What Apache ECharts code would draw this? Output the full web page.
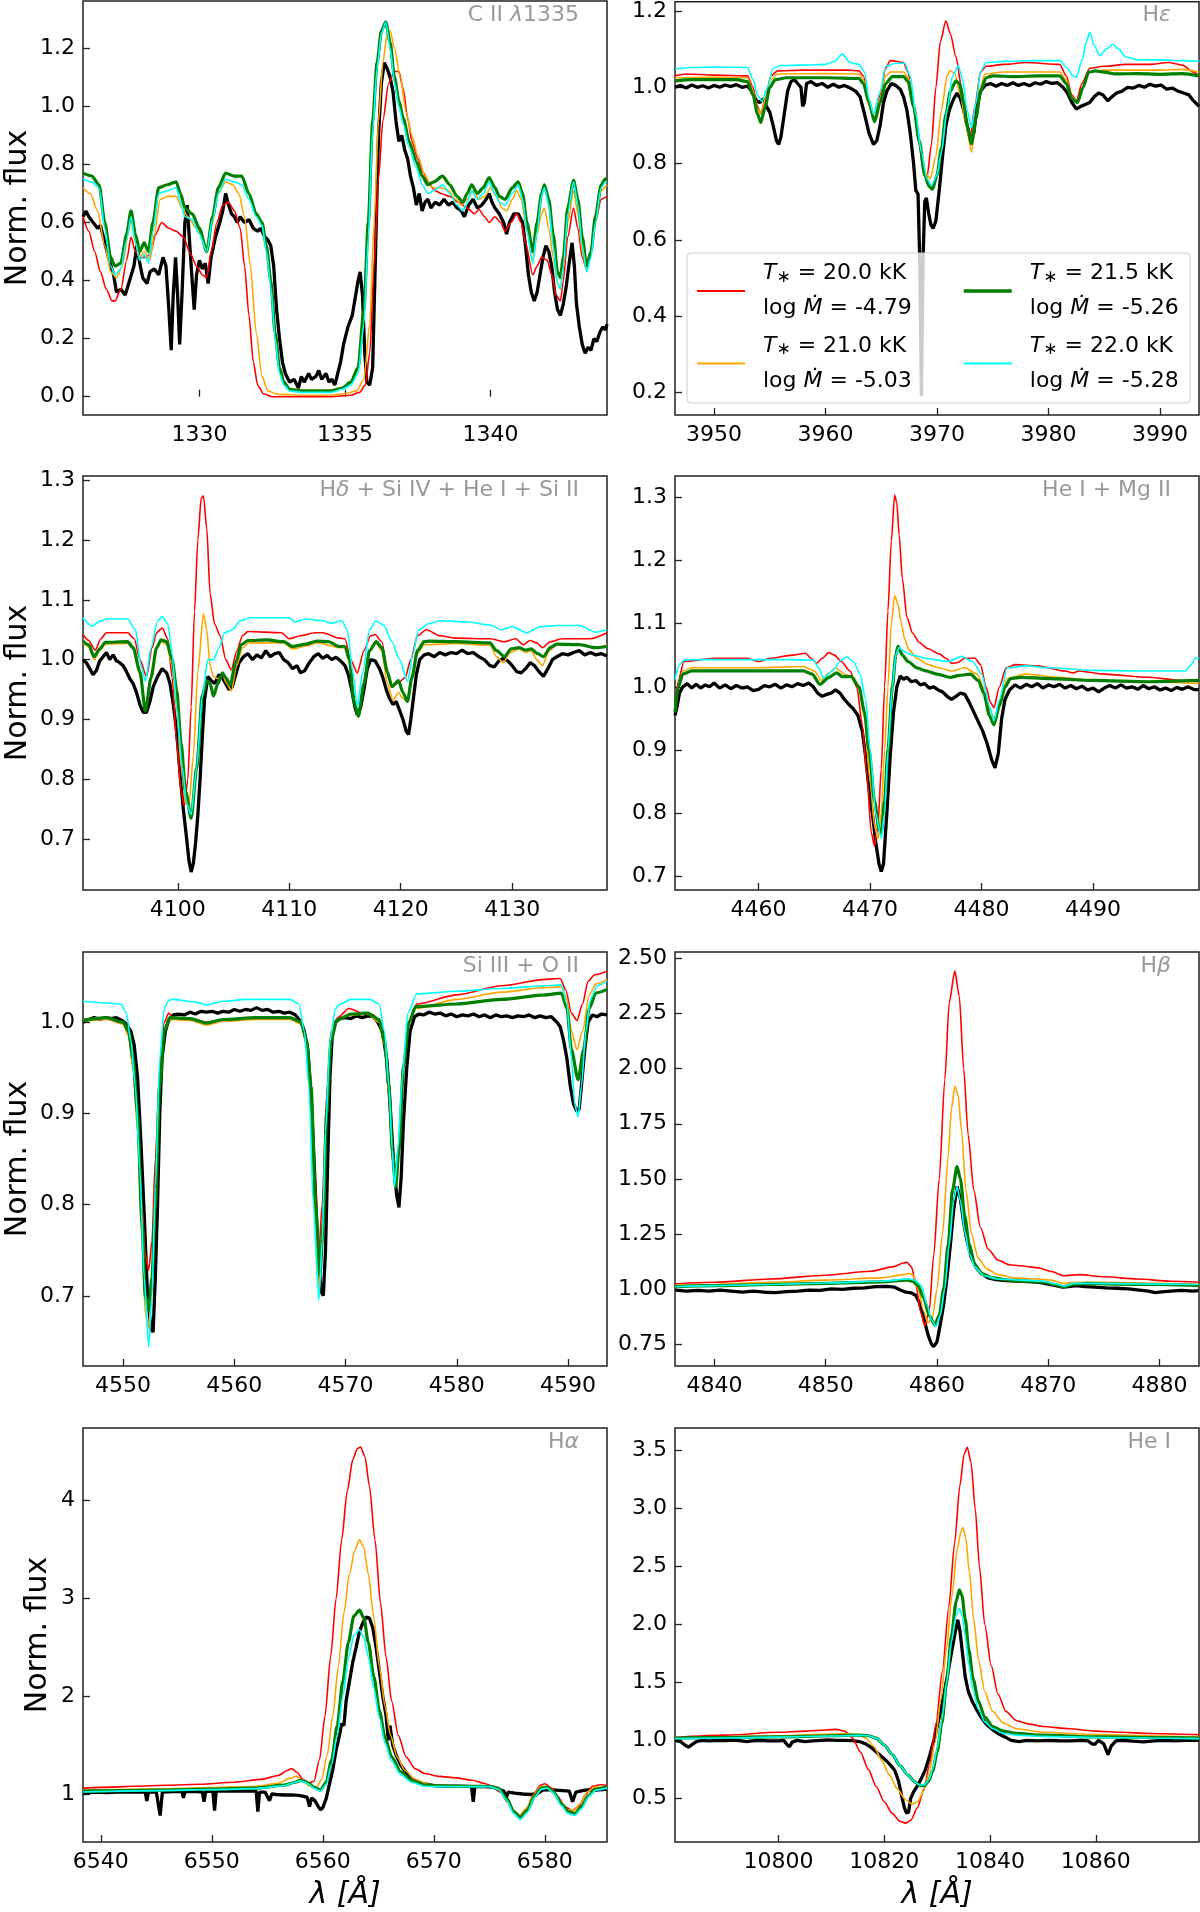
<!DOCTYPE html>
<html>
<head>
<meta charset="utf-8" />
<title>Model fits</title>
<script src="https://cdn.jsdelivr.net/npm/echarts@6.0.0/dist/echarts.min.js"></script>
</head>
<body style="margin:0; background:#fff">
<div id="container" style="width:1200px; height:1912px"></div>
<script>
// model labels and colours
var modelTeff = ['20.0', '21.0', '21.5', '22.0'];
var modelLogMdot = ['-4.79', '-5.03', '-5.26', '-5.28'];
var modelColors = ['#ff0000', '#ffa500', '#008000', '#00ffff'];
var modelNames = modelTeff.map(function (t, i) { return 'T = ' + t + ' kK, log Mdot = ' + modelLogMdot[i]; });

// ---- C II 1335 ----
var ciiXTicks = [1330, 1335, 1340];
var ciiYTicks = [0, 0.2, 0.4, 0.6, 0.8, 1.0, 1.2];
var ciiObs = [[1326.0,0.62],[1326.1,0.64],[1326.2,0.62],[1326.35,0.6],[1326.5,0.58],[1326.6,0.59],[1326.75,0.53],[1326.9,0.47],[1327.05,0.42],[1327.15,0.36],[1327.3,0.37],[1327.45,0.35],[1327.6,0.4],[1327.75,0.45],[1327.85,0.52],[1327.95,0.46],[1328.05,0.41],[1328.2,0.39],[1328.3,0.43],[1328.45,0.44],[1328.6,0.42],[1328.75,0.48],[1328.85,0.45],[1328.95,0.3],[1329.03,0.16],[1329.1,0.35],[1329.18,0.48],[1329.25,0.35],[1329.32,0.18],[1329.4,0.35],[1329.5,0.6],[1329.58,0.66],[1329.65,0.55],[1329.75,0.4],[1329.82,0.3],[1329.9,0.42],[1330.0,0.47],[1330.1,0.44],[1330.2,0.46],[1330.3,0.39],[1330.4,0.48],[1330.55,0.55],[1330.7,0.6],[1330.8,0.64],[1330.9,0.7],[1331.0,0.66],[1331.1,0.63],[1331.2,0.62],[1331.3,0.6],[1331.4,0.62],[1331.55,0.6],[1331.7,0.61],[1331.85,0.58],[1332.0,0.57],[1332.1,0.58],[1332.25,0.55],[1332.35,0.54],[1332.45,0.52],[1332.55,0.45],[1332.65,0.3],[1332.75,0.2],[1332.85,0.12],[1332.95,0.08],[1333.1,0.05],[1333.25,0.06],[1333.4,0.03],[1333.5,0.07],[1333.6,0.05],[1333.75,0.08],[1333.85,0.06],[1334.0,0.07],[1334.1,0.09],[1334.2,0.06],[1334.35,0.08],[1334.45,0.05],[1334.55,0.06],[1334.65,0.04],[1334.75,0.08],[1334.85,0.12],[1334.95,0.18],[1335.1,0.24],[1335.25,0.28],[1335.35,0.34],[1335.45,0.4],[1335.52,0.43],[1335.6,0.35],[1335.68,0.15],[1335.75,0.05],[1335.85,0.04],[1335.95,0.1],[1336.05,0.5],[1336.15,0.9],[1336.25,1.08],[1336.35,1.15],[1336.45,1.13],[1336.55,1.1],[1336.65,1.05],[1336.75,0.95],[1336.85,0.88],[1336.95,0.9],[1337.05,0.85],[1337.15,0.82],[1337.25,0.76],[1337.35,0.72],[1337.45,0.66],[1337.55,0.7],[1337.65,0.64],[1337.75,0.67],[1337.85,0.68],[1337.95,0.65],[1338.1,0.67],[1338.25,0.66],[1338.4,0.68],[1338.55,0.66],[1338.7,0.67],[1338.85,0.65],[1339.0,0.64],[1339.1,0.62],[1339.25,0.66],[1339.4,0.68],[1339.55,0.65],[1339.7,0.66],[1339.85,0.68],[1339.95,0.7],[1340.05,0.67],[1340.15,0.65],[1340.3,0.63],[1340.45,0.6],[1340.55,0.56],[1340.65,0.6],[1340.8,0.63],[1340.95,0.63],[1341.1,0.6],[1341.2,0.52],[1341.3,0.42],[1341.4,0.36],[1341.5,0.33],[1341.6,0.36],[1341.7,0.42],[1341.8,0.48],[1341.9,0.52],[1342.0,0.5],[1342.1,0.45],[1342.2,0.36],[1342.3,0.3],[1342.4,0.28],[1342.5,0.32],[1342.6,0.38],[1342.7,0.46],[1342.8,0.53],[1342.88,0.45],[1342.95,0.32],[1343.05,0.24],[1343.15,0.18],[1343.25,0.15],[1343.35,0.17],[1343.45,0.16],[1343.55,0.2],[1343.65,0.19],[1343.75,0.22],[1343.85,0.24],[1343.95,0.23],[1344.0,0.25]];
var ciiT200 = [[1326.0,0.62],[1326.2,0.57],[1326.4,0.5],[1326.6,0.43],[1326.8,0.37],[1327.0,0.33],[1327.1,0.33],[1327.3,0.37],[1327.5,0.47],[1327.65,0.55],[1327.8,0.5],[1327.95,0.48],[1328.15,0.48],[1328.3,0.49],[1328.5,0.56],[1328.7,0.6],[1328.95,0.58],[1329.2,0.57],[1329.45,0.55],[1329.7,0.49],[1329.9,0.45],[1330.1,0.42],[1330.25,0.41],[1330.4,0.5],[1330.6,0.6],[1330.8,0.66],[1331.0,0.67],[1331.2,0.64],[1331.4,0.58],[1331.55,0.45],[1331.7,0.28],[1331.85,0.12],[1332.0,0.04],[1332.2,0.01],[1332.5,0.0],[1333.5,0.0],[1334.5,0.0],[1335.2,0.005],[1335.5,0.015],[1335.7,0.04],[1335.85,0.15],[1336.0,0.45],[1336.15,0.75],[1336.3,0.95],[1336.5,1.08],[1336.7,1.12],[1336.85,1.12],[1337.0,1.06],[1337.15,0.96],[1337.3,0.88],[1337.5,0.82],[1337.7,0.77],[1337.9,0.73],[1338.1,0.71],[1338.3,0.7],[1338.6,0.69],[1338.9,0.67],[1339.2,0.65],[1339.45,0.63],[1339.6,0.645],[1339.8,0.62],[1339.95,0.6],[1340.15,0.62],[1340.35,0.6],[1340.5,0.57],[1340.7,0.6],[1340.9,0.63],[1341.05,0.6],[1341.2,0.53],[1341.45,0.42],[1341.6,0.45],[1341.75,0.48],[1341.95,0.47],[1342.1,0.42],[1342.25,0.35],[1342.4,0.33],[1342.5,0.4],[1342.65,0.55],[1342.85,0.65],[1343.0,0.58],[1343.15,0.48],[1343.3,0.44],[1343.45,0.5],[1343.6,0.6],[1343.8,0.68],[1344.0,0.69]];
var ciiT210 = [[1326.0,0.72],[1326.25,0.7],[1326.5,0.64],[1326.75,0.52],[1326.95,0.43],[1327.15,0.41],[1327.35,0.45],[1327.55,0.56],[1327.65,0.61],[1327.8,0.53],[1327.95,0.48],[1328.1,0.5],[1328.3,0.47],[1328.45,0.56],[1328.65,0.68],[1328.9,0.69],[1329.2,0.69],[1329.4,0.65],[1329.6,0.62],[1329.9,0.58],[1330.25,0.52],[1330.45,0.6],[1330.65,0.7],[1330.9,0.74],[1331.15,0.73],[1331.35,0.7],[1331.55,0.62],[1331.75,0.45],[1331.95,0.22],[1332.15,0.07],[1332.35,0.02],[1332.7,0.008],[1333.5,0.005],[1334.5,0.005],[1335.0,0.01],[1335.4,0.02],[1335.65,0.06],[1335.85,0.25],[1336.0,0.6],[1336.15,0.95],[1336.3,1.15],[1336.45,1.25],[1336.55,1.26],[1336.7,1.2],[1336.9,1.1],[1337.1,0.98],[1337.3,0.9],[1337.5,0.83],[1337.75,0.76],[1338.0,0.72],[1338.3,0.72],[1338.55,0.71],[1338.8,0.68],[1339.0,0.66],[1339.2,0.68],[1339.4,0.71],[1339.6,0.68],[1339.8,0.69],[1340.0,0.72],[1340.2,0.69],[1340.4,0.65],[1340.55,0.64],[1340.75,0.68],[1340.9,0.71],[1341.05,0.68],[1341.25,0.57],[1341.45,0.47],[1341.6,0.56],[1341.75,0.63],[1341.85,0.65],[1342.0,0.58],[1342.15,0.48],[1342.3,0.39],[1342.4,0.37],[1342.5,0.44],[1342.65,0.6],[1342.85,0.71],[1343.0,0.63],[1343.15,0.5],[1343.3,0.44],[1343.45,0.5],[1343.6,0.6],[1343.8,0.71],[1344.0,0.73]];
var ciiT215 = [[1326.0,0.77],[1326.3,0.76],[1326.55,0.73],[1326.75,0.6],[1326.95,0.48],[1327.1,0.45],[1327.3,0.46],[1327.5,0.56],[1327.65,0.64],[1327.8,0.56],[1327.95,0.5],[1328.1,0.53],[1328.25,0.5],[1328.4,0.6],[1328.6,0.72],[1328.9,0.73],[1329.2,0.74],[1329.35,0.7],[1329.5,0.65],[1329.75,0.63],[1330.0,0.58],[1330.25,0.5],[1330.45,0.62],[1330.65,0.72],[1330.9,0.77],[1331.2,0.76],[1331.45,0.76],[1331.7,0.7],[1331.95,0.63],[1332.15,0.6],[1332.3,0.52],[1332.45,0.4],[1332.6,0.22],[1332.75,0.1],[1332.9,0.05],[1333.1,0.025],[1333.5,0.02],[1334.0,0.02],[1334.5,0.02],[1334.9,0.03],[1335.2,0.05],[1335.45,0.1],[1335.65,0.3],[1335.8,0.6],[1335.95,0.95],[1336.1,1.15],[1336.25,1.26],[1336.4,1.29],[1336.55,1.22],[1336.7,1.1],[1336.85,1.02],[1337.0,0.96],[1337.2,0.88],[1337.45,0.81],[1337.65,0.76],[1337.85,0.73],[1338.05,0.74],[1338.35,0.76],[1338.6,0.73],[1338.85,0.69],[1339.05,0.67],[1339.2,0.7],[1339.35,0.73],[1339.55,0.7],[1339.75,0.72],[1339.95,0.755],[1340.15,0.72],[1340.3,0.69],[1340.5,0.68],[1340.75,0.72],[1340.95,0.74],[1341.1,0.7],[1341.25,0.6],[1341.45,0.5],[1341.6,0.6],[1341.75,0.7],[1341.85,0.73],[1342.0,0.68],[1342.15,0.56],[1342.3,0.43],[1342.4,0.41],[1342.5,0.48],[1342.65,0.65],[1342.85,0.745],[1343.0,0.68],[1343.15,0.55],[1343.3,0.45],[1343.45,0.5],[1343.6,0.62],[1343.8,0.73],[1343.95,0.75],[1344.0,0.75]];
var ciiT220 = [[1326.0,0.75],[1326.3,0.74],[1326.55,0.72],[1326.75,0.58],[1326.95,0.45],[1327.1,0.42],[1327.3,0.44],[1327.5,0.54],[1327.65,0.62],[1327.8,0.53],[1327.95,0.47],[1328.1,0.49],[1328.25,0.46],[1328.4,0.57],[1328.6,0.7],[1328.9,0.71],[1329.2,0.72],[1329.35,0.67],[1329.5,0.62],[1329.75,0.61],[1330.0,0.56],[1330.25,0.5],[1330.45,0.61],[1330.65,0.7],[1330.9,0.75],[1331.2,0.74],[1331.45,0.73],[1331.7,0.68],[1331.95,0.62],[1332.15,0.59],[1332.3,0.5],[1332.45,0.38],[1332.6,0.2],[1332.75,0.08],[1332.9,0.04],[1333.1,0.02],[1333.5,0.015],[1334.0,0.015],[1334.5,0.015],[1334.9,0.025],[1335.2,0.04],[1335.45,0.08],[1335.65,0.25],[1335.8,0.55],[1335.95,0.92],[1336.1,1.13],[1336.25,1.25],[1336.4,1.29],[1336.55,1.2],[1336.7,1.08],[1336.85,1.0],[1337.0,0.94],[1337.2,0.86],[1337.45,0.79],[1337.65,0.73],[1337.85,0.7],[1338.05,0.71],[1338.35,0.73],[1338.6,0.7],[1338.85,0.66],[1339.05,0.64],[1339.2,0.67],[1339.35,0.71],[1339.55,0.68],[1339.75,0.7],[1339.95,0.74],[1340.15,0.7],[1340.3,0.67],[1340.5,0.66],[1340.75,0.7],[1340.95,0.73],[1341.1,0.68],[1341.25,0.57],[1341.45,0.46],[1341.6,0.57],[1341.75,0.69],[1341.85,0.72],[1342.0,0.66],[1342.15,0.52],[1342.3,0.39],[1342.4,0.37],[1342.5,0.45],[1342.65,0.63],[1342.85,0.74],[1343.0,0.66],[1343.15,0.52],[1343.3,0.43],[1343.45,0.48],[1343.6,0.6],[1343.8,0.72],[1343.95,0.74],[1344.0,0.74]];

// ---- H epsilon ----
var heXTicks = [3950, 3960, 3970, 3980, 3990];
var heYTicks = [0.2, 0.4, 0.6, 0.8, 1.0, 1.2];
var heObs = [[3946.5,1.0],[3947.0,1.005],[3947.5,0.998],[3948.0,1.006],[3948.5,1.0],[3949.0,1.004],[3949.5,0.998],[3950.0,1.005],[3950.5,1.0],[3951.0,1.006],[3951.5,1.002],[3952.0,1.007],[3952.5,1.0],[3953.0,1.003],[3953.4,0.99],[3953.8,0.965],[3954.1,0.96],[3954.4,0.97],[3954.7,0.95],[3955.0,0.935],[3955.3,0.9],[3955.6,0.86],[3955.8,0.85],[3956.0,0.87],[3956.3,0.93],[3956.6,0.99],[3956.9,1.015],[3957.2,1.02],[3957.5,1.01],[3957.8,1.0],[3957.95,0.95],[3958.1,0.96],[3958.3,1.01],[3958.7,1.015],[3959.2,1.005],[3959.7,1.01],[3960.2,1.0],[3960.7,1.008],[3961.2,1.0],[3961.7,1.005],[3962.2,0.998],[3962.7,0.99],[3963.1,0.975],[3963.5,0.93],[3963.9,0.88],[3964.3,0.85],[3964.6,0.86],[3964.9,0.9],[3965.2,0.96],[3965.5,0.99],[3965.9,1.01],[3966.3,1.005],[3966.7,0.995],[3967.0,0.975],[3967.3,0.94],[3967.6,0.88],[3967.9,0.8],[3968.1,0.73],[3968.3,0.72],[3968.45,0.55],[3968.6,0.19],[3968.75,0.55],[3968.9,0.7],[3969.05,0.71],[3969.25,0.67],[3969.45,0.64],[3969.65,0.63],[3969.9,0.65],[3970.2,0.73],[3970.5,0.82],[3970.8,0.9],[3971.1,0.94],[3971.5,0.97],[3971.8,0.985],[3972.1,0.97],[3972.4,0.94],[3972.7,0.9],[3973.0,0.86],[3973.3,0.88],[3973.6,0.95],[3973.9,0.99],[3974.3,1.005],[3974.8,1.01],[3975.3,1.003],[3975.8,1.01],[3976.3,1.005],[3976.8,1.012],[3977.3,1.005],[3977.8,1.01],[3978.3,1.004],[3978.8,1.012],[3979.3,1.008],[3979.8,1.015],[3980.3,1.01],[3980.8,1.012],[3981.3,1.0],[3981.7,0.985],[3982.1,0.96],[3982.5,0.943],[3982.9,0.95],[3983.3,0.955],[3983.7,0.96],[3984.1,0.975],[3984.5,0.985],[3984.9,0.98],[3985.3,0.965],[3985.7,0.975],[3986.1,0.985],[3986.6,0.99],[3987.1,1.0],[3987.6,0.998],[3988.1,1.005],[3988.6,1.0],[3989.1,1.008],[3989.6,1.003],[3990.1,1.006],[3990.6,0.995],[3991.1,0.998],[3991.6,0.99],[3992.1,0.985],[3992.6,0.98],[3993.0,0.965],[3993.5,0.95]];
var heT200 = [[3946.5,1.03],[3947.5,1.035],[3950,1.032],[3953,1.03],[3953.5,1.0],[3953.9,0.95],[3954.2,0.93],[3954.6,0.97],[3955.1,1.03],[3955.7,1.043],[3958,1.045],[3962,1.045],[3963,1.043],[3963.4,1.03],[3963.9,0.96],[3964.4,0.92],[3964.9,0.98],[3965.4,1.05],[3965.8,1.07],[3967.0,1.065],[3967.4,1.04],[3967.9,0.95],[3968.4,0.85],[3968.8,0.78],[3969.1,0.765],[3969.5,0.85],[3969.9,1.0],[3970.3,1.12],[3970.8,1.174],[3971.2,1.14],[3971.7,1.08],[3972.2,1.0],[3972.6,0.92],[3973.0,0.874],[3973.4,0.95],[3973.9,1.04],[3974.4,1.055],[3976,1.06],[3978,1.065],[3981,1.06],[3981.6,1.03],[3982.1,0.98],[3982.5,0.965],[3983.0,1.01],[3983.7,1.05],[3985,1.055],[3987,1.06],[3989,1.06],[3990.8,1.065],[3992,1.058],[3993,1.04],[3993.5,1.03]];
var heT210 = [[3946.5,1.025],[3950,1.026],[3953,1.025],[3953.5,0.99],[3953.9,0.945],[3954.2,0.93],[3954.6,0.97],[3955.1,1.02],[3955.7,1.035],[3960,1.036],[3963,1.035],[3963.4,1.02],[3963.9,0.95],[3964.4,0.92],[3964.9,0.97],[3965.4,1.03],[3965.8,1.04],[3967.0,1.04],[3967.5,1.02],[3968.0,0.93],[3968.5,0.84],[3969.0,0.775],[3969.4,0.76],[3969.9,0.82],[3970.4,0.94],[3970.9,1.03],[3971.2,1.044],[3971.6,1.035],[3972.1,0.98],[3972.6,0.9],[3973.1,0.83],[3973.5,0.92],[3973.9,1.0],[3974.3,1.035],[3976,1.04],[3981,1.04],[3981.6,1.02],[3982.1,0.975],[3982.6,0.96],[3983.1,1.0],[3983.6,1.04],[3985,1.045],[3990,1.045],[3992,1.047],[3993.5,1.04]];
var heT215 = [[3946.5,1.017],[3948,1.02],[3950,1.02],[3952,1.02],[3953,1.015],[3953.5,0.98],[3953.9,0.93],[3954.2,0.908],[3954.6,0.95],[3955.0,1.0],[3955.5,1.02],[3956.5,1.025],[3960,1.025],[3963,1.023],[3963.4,1.01],[3963.9,0.96],[3964.4,0.91],[3964.9,0.96],[3965.4,1.01],[3966.0,1.028],[3967.0,1.028],[3967.4,1.015],[3967.9,0.95],[3968.4,0.86],[3968.9,0.77],[3969.3,0.74],[3969.6,0.733],[3970.0,0.77],[3970.4,0.84],[3970.8,0.93],[3971.2,0.99],[3971.7,1.017],[3972.0,1.01],[3972.4,0.96],[3972.7,0.9],[3973.1,0.852],[3973.5,0.92],[3973.9,0.99],[3974.4,1.025],[3975,1.03],[3977,1.028],[3979,1.03],[3981,1.03],[3981.6,1.01],[3982.1,0.97],[3982.6,0.96],[3983.1,1.0],[3983.6,1.04],[3984.2,1.043],[3985,1.04],[3986,1.035],[3988,1.036],[3990,1.034],[3992,1.036],[3993.5,1.03]];
var heT220 = [[3946.5,1.048],[3948,1.052],[3950,1.053],[3953,1.052],[3953.5,1.02],[3953.9,0.98],[3954.3,0.963],[3954.8,1.0],[3955.3,1.05],[3956,1.057],[3958,1.058],[3960,1.06],[3960.8,1.068],[3961.5,1.087],[3962.2,1.065],[3963,1.06],[3963.5,1.04],[3963.9,0.97],[3964.3,0.93],[3964.9,0.99],[3965.4,1.055],[3966.3,1.063],[3967.1,1.063],[3967.6,1.03],[3968.1,0.93],[3968.6,0.83],[3969.1,0.76],[3969.5,0.743],[3970.0,0.77],[3970.4,0.83],[3970.9,0.94],[3971.4,1.03],[3971.9,1.057],[3972.3,1.02],[3972.7,0.94],[3973.1,0.895],[3973.5,0.96],[3973.9,1.04],[3974.4,1.065],[3976,1.068],[3979,1.07],[3981,1.07],[3981.7,1.05],[3982.2,1.03],[3982.5,1.026],[3983.0,1.07],[3983.4,1.12],[3983.7,1.144],[3984.1,1.11],[3984.6,1.083],[3985.2,1.1],[3985.8,1.113],[3986.3,1.1],[3986.9,1.08],[3988,1.072],[3990,1.072],[3992,1.07],[3993.5,1.068]];

// ---- H delta ----
var hdXTicks = [4100, 4110, 4120, 4130];
var hdYTicks = [0.7, 0.8, 0.9, 1.0, 1.1, 1.2, 1.3];
var hdObs = [[4091.5,1.0],[4091.8,0.995],[4092.1,0.985],[4092.4,0.975],[4092.7,0.982],[4093.0,0.998],[4093.3,1.005],[4093.6,1.012],[4093.9,1.0],[4094.2,1.008],[4094.5,0.998],[4094.8,0.995],[4095.1,0.99],[4095.4,0.98],[4095.7,0.968],[4096.0,0.96],[4096.3,0.945],[4096.6,0.925],[4096.9,0.912],[4097.2,0.912],[4097.5,0.93],[4097.8,0.955],[4098.2,0.972],[4098.6,0.985],[4099.0,0.978],[4099.3,0.96],[4099.6,0.925],[4099.9,0.88],[4100.2,0.81],[4100.5,0.75],[4100.8,0.7],[4101.0,0.665],[4101.2,0.645],[4101.4,0.66],[4101.6,0.694],[4101.8,0.74],[4102.0,0.8],[4102.2,0.87],[4102.4,0.933],[4102.7,0.972],[4103.0,0.965],[4103.3,0.96],[4103.7,0.975],[4104.0,0.97],[4104.3,0.96],[4104.6,0.95],[4104.9,0.955],[4105.2,0.975],[4105.5,0.995],[4105.9,1.005],[4106.3,1.01],[4106.7,1.0],[4107.1,1.008],[4107.5,1.003],[4107.9,1.015],[4108.3,1.005],[4108.7,1.01],[4109.1,1.012],[4109.5,1.0],[4109.9,0.995],[4110.3,0.985],[4110.7,0.99],[4111.0,0.978],[4111.4,0.982],[4111.8,0.995],[4112.2,1.005],[4112.6,1.01],[4113.0,1.002],[4113.4,1.007],[4113.8,1.0],[4114.2,1.004],[4114.6,0.998],[4115.0,0.99],[4115.3,0.975],[4115.6,0.95],[4115.9,0.92],[4116.1,0.908],[4116.4,0.92],[4116.7,0.95],[4117.0,0.985],[4117.3,1.0],[4117.7,0.998],[4118.1,0.985],[4118.4,0.97],[4118.7,0.95],[4119.0,0.935],[4119.3,0.925],[4119.6,0.93],[4119.9,0.915],[4120.2,0.9],[4120.5,0.88],[4120.7,0.875],[4120.9,0.9],[4121.1,0.93],[4121.4,0.975],[4121.7,1.0],[4122.1,1.008],[4122.5,1.01],[4123.0,1.005],[4123.5,1.012],[4124.0,1.008],[4124.5,1.012],[4125.0,1.01],[4125.5,1.016],[4126.0,1.01],[4126.5,1.012],[4127.0,1.005],[4127.5,1.0],[4128.0,0.99],[4128.4,0.988],[4128.8,0.998],[4129.2,1.002],[4129.6,0.998],[4130.0,0.99],[4130.4,0.98],[4130.8,0.978],[4131.2,0.985],[4131.6,0.995],[4132.0,0.99],[4132.4,0.98],[4132.8,0.972],[4133.2,0.985],[4133.6,1.0],[4134.0,1.005],[4134.5,1.01],[4135.0,1.008],[4135.5,1.012],[4136.0,1.015],[4136.5,1.008],[4137.0,1.012],[4137.5,1.008],[4138.0,1.01],[4138.5,1.006]];
var hdT200 = [[4091.5,1.042],[4092.0,1.032],[4092.6,1.016],[4093.1,1.035],[4093.6,1.045],[4095.5,1.045],[4096.1,1.035],[4096.6,1.0],[4097.2,0.972],[4097.7,1.02],[4098.1,1.045],[4098.6,1.053],[4099.1,1.035],[4099.5,0.97],[4099.9,0.86],[4100.3,0.78],[4100.6,0.755],[4100.9,0.8],[4101.2,0.92],[4101.5,1.08],[4101.8,1.2],[4102.1,1.27],[4102.3,1.274],[4102.6,1.22],[4102.9,1.11],[4103.3,1.06],[4103.8,1.04],[4104.3,1.0],[4104.8,0.983],[4105.3,1.015],[4105.8,1.04],[4106.3,1.047],[4109.3,1.045],[4110.0,1.035],[4111.0,1.04],[4112.3,1.045],[4113.0,1.045],[4114.5,1.036],[4115.0,1.035],[4115.5,1.0],[4116.1,0.978],[4116.7,1.015],[4117.3,1.04],[4117.7,1.042],[4118.3,1.03],[4118.9,0.97],[4119.3,0.955],[4119.8,0.962],[4120.4,0.97],[4120.9,1.0],[4121.5,1.04],[4122.3,1.05],[4123.5,1.04],[4125,1.036],[4128,1.035],[4129.3,1.03],[4130.3,1.035],[4131.0,1.025],[4131.6,1.032],[4132.2,1.028],[4132.7,1.02],[4133.4,1.03],[4134.5,1.035],[4137,1.035],[4138.5,1.045]];
var hdT210 = [[4091.5,1.028],[4092.0,1.022],[4092.5,1.0],[4093.0,1.015],[4093.5,1.026],[4095.5,1.027],[4096.0,1.018],[4096.6,0.975],[4097.1,0.915],[4097.6,0.97],[4098.1,1.02],[4098.5,1.03],[4099.0,1.025],[4099.5,0.99],[4099.9,0.92],[4100.3,0.82],[4100.7,0.76],[4101.0,0.755],[4101.4,0.84],[4101.8,0.98],[4102.3,1.077],[4102.6,1.05],[4102.9,0.99],[4103.2,0.972],[4103.6,0.968],[4104.0,0.975],[4104.4,0.96],[4104.8,0.948],[4105.3,0.99],[4105.8,1.02],[4106.4,1.028],[4109.5,1.028],[4110.3,1.018],[4111.5,1.023],[4112.5,1.028],[4114.5,1.02],[4115.0,1.02],[4115.4,0.995],[4115.8,0.93],[4116.2,0.91],[4116.7,0.96],[4117.2,1.015],[4117.8,1.027],[4118.3,1.015],[4118.8,0.96],[4119.3,0.932],[4119.8,0.945],[4120.2,0.935],[4120.6,0.93],[4121.0,0.97],[4121.5,1.01],[4122.1,1.025],[4125,1.027],[4128,1.024],[4128.6,1.005],[4129.2,0.995],[4129.8,1.012],[4130.6,1.018],[4131.2,1.012],[4131.7,1.015],[4132.2,1.0],[4132.7,0.99],[4133.3,1.015],[4134.0,1.025],[4136,1.024],[4137.5,1.02],[4138.5,1.024]];
var hdT215 = [[4091.5,1.031],[4092.0,1.025],[4092.5,1.005],[4093.0,1.018],[4093.5,1.029],[4095.5,1.03],[4096.0,1.02],[4096.6,0.98],[4097.1,0.914],[4097.6,0.97],[4098.1,1.02],[4098.5,1.033],[4099.0,1.03],[4099.5,1.0],[4099.9,0.95],[4100.3,0.86],[4100.7,0.78],[4101.2,0.735],[4101.7,0.82],[4102.2,0.94],[4102.6,0.965],[4102.9,0.96],[4103.2,0.939],[4103.6,0.96],[4104.0,0.978],[4104.3,0.97],[4104.7,0.958],[4105.2,0.995],[4105.7,1.025],[4106.3,1.032],[4108,1.033],[4109.5,1.03],[4110.3,1.022],[4111.5,1.026],[4112.5,1.031],[4113.5,1.03],[4114.5,1.022],[4115.0,1.022],[4115.4,1.0],[4115.8,0.93],[4116.2,0.905],[4116.7,0.96],[4117.2,1.015],[4117.8,1.03],[4118.3,1.02],[4118.8,0.98],[4119.2,0.955],[4119.8,0.965],[4120.2,0.945],[4120.6,0.93],[4121.0,0.97],[4121.5,1.015],[4122.1,1.03],[4122.6,1.031],[4125,1.03],[4128,1.028],[4128.6,1.015],[4129.3,1.005],[4129.9,1.018],[4130.6,1.02],[4131.2,1.016],[4131.7,1.018],[4132.3,1.01],[4132.8,1.005],[4133.4,1.02],[4134.0,1.026],[4136,1.025],[4137.5,1.02],[4138.5,1.022]];
var hdT220 = [[4091.5,1.07],[4092.3,1.056],[4093.0,1.064],[4093.6,1.068],[4095.5,1.068],[4096.2,1.05],[4096.7,0.99],[4097.1,0.964],[4097.6,1.02],[4098.2,1.065],[4098.6,1.072],[4099.1,1.06],[4099.5,1.01],[4099.9,0.92],[4100.4,0.82],[4100.8,0.76],[4101.2,0.741],[4101.7,0.82],[4102.2,0.94],[4102.7,1.0],[4103.2,1.0],[4103.7,1.02],[4104.2,1.045],[4104.9,1.05],[4105.6,1.065],[4106.5,1.07],[4110.0,1.07],[4110.5,1.063],[4111.5,1.068],[4113.0,1.065],[4113.8,1.061],[4114.7,1.065],[4115.2,1.05],[4115.7,0.98],[4116.1,0.922],[4116.6,0.98],[4117.2,1.05],[4117.8,1.065],[4118.5,1.057],[4119.2,1.03],[4119.9,1.0],[4120.6,0.964],[4121.1,1.01],[4121.6,1.05],[4122.5,1.06],[4123.5,1.065],[4126,1.063],[4128,1.058],[4129,1.05],[4130,1.055],[4131.3,1.045],[4132.5,1.055],[4134,1.057],[4136,1.057],[4137.5,1.046],[4138.5,1.05]];

// ---- He I 4471 + Mg II 4481 ----
var hmXTicks = [4460, 4470, 4480, 4490];
var hmYTicks = [0.7, 0.8, 0.9, 1.0, 1.1, 1.2, 1.3];
var hmObs = [[4452.5,0.955],[4452.7,0.97],[4452.9,0.99],[4453.2,1.0],[4453.6,1.005],[4454.0,0.998],[4454.4,1.004],[4454.8,0.998],[4455.2,1.003],[4455.6,1.0],[4456.0,1.006],[4456.5,0.998],[4457.0,1.003],[4457.5,0.997],[4458.0,1.002],[4458.5,0.998],[4459.0,1.0],[4459.5,0.994],[4460.0,0.996],[4460.5,1.002],[4461.0,1.0],[4461.5,1.004],[4462.0,0.998],[4462.5,1.003],[4463.0,1.0],[4463.5,1.005],[4464.0,1.002],[4464.5,1.006],[4464.9,1.0],[4465.3,0.99],[4465.7,0.985],[4466.1,0.988],[4466.5,0.99],[4466.9,0.995],[4467.3,0.99],[4467.7,0.98],[4468.1,0.972],[4468.5,0.965],[4468.9,0.955],[4469.3,0.93],[4469.6,0.89],[4469.9,0.84],[4470.2,0.8],[4470.5,0.755],[4470.8,0.72],[4471.0,0.708],[4471.2,0.72],[4471.5,0.8],[4471.8,0.89],[4472.1,0.96],[4472.4,1.0],[4472.7,1.017],[4473.0,1.012],[4473.3,1.015],[4473.7,1.008],[4474.1,1.01],[4474.5,1.003],[4474.9,1.005],[4475.3,0.998],[4475.7,1.0],[4476.1,0.995],[4476.5,0.992],[4476.9,0.985],[4477.3,0.98],[4477.7,0.985],[4478.1,0.99],[4478.5,0.988],[4478.9,0.975],[4479.3,0.96],[4479.7,0.945],[4480.1,0.93],[4480.5,0.91],[4480.9,0.885],[4481.2,0.872],[4481.5,0.895],[4481.8,0.95],[4482.1,0.98],[4482.5,0.995],[4483.0,1.003],[4483.5,0.998],[4484.0,1.004],[4484.5,1.0],[4485.0,1.005],[4485.5,0.998],[4486.0,1.003],[4486.5,1.0],[4487.0,1.004],[4487.5,0.998],[4488.0,1.002],[4488.5,0.997],[4489.0,1.001],[4489.5,0.995],[4490.0,0.998],[4490.5,0.992],[4491.0,0.998],[4491.5,1.002],[4492.0,0.998],[4492.5,1.003],[4493.0,0.998],[4493.5,1.0],[4494.0,0.996],[4494.5,1.002],[4495.0,0.997],[4495.5,1.0],[4496.0,0.995],[4496.5,0.998],[4497.0,0.994],[4497.5,0.999],[4498.0,0.996],[4498.5,1.0],[4499.0,0.996],[4499.5,0.995]];
var hmT200 = [[4452.5,0.96],[4452.8,1.01],[4453.3,1.04],[4456,1.045],[4459,1.045],[4460,1.04],[4461,1.045],[4463,1.05],[4464.2,1.053],[4464.7,1.045],[4465.2,1.037],[4465.7,1.045],[4466.3,1.054],[4466.8,1.05],[4467.4,1.04],[4468.2,1.025],[4468.8,1.0],[4469.3,0.94],[4469.7,0.86],[4470.1,0.77],[4470.4,0.748],[4470.7,0.78],[4471.0,0.87],[4471.3,1.0],[4471.6,1.12],[4471.9,1.23],[4472.2,1.303],[4472.4,1.29],[4472.6,1.24],[4472.9,1.17],[4473.3,1.11],[4473.8,1.085],[4474.4,1.07],[4475.2,1.06],[4476.2,1.052],[4476.8,1.045],[4477.3,1.037],[4477.8,1.038],[4478.5,1.045],[4479.4,1.045],[4479.9,1.035],[4480.4,1.0],[4480.8,0.975],[4481.1,0.967],[4481.6,1.0],[4482.2,1.03],[4483.0,1.035],[4485,1.033],[4487.5,1.025],[4488.2,1.022],[4488.7,1.025],[4491,1.02],[4495,1.015],[4498,1.01],[4499.5,1.008]];
var hmT210 = [[4452.5,0.96],[4452.8,1.0],[4453.2,1.025],[4454,1.03],[4460,1.03],[4464,1.032],[4465.0,1.025],[4465.6,1.01],[4466.3,1.022],[4466.9,1.03],[4467.7,1.02],[4468.5,1.015],[4469.0,1.0],[4469.5,0.95],[4470.0,0.85],[4470.4,0.78],[4470.7,0.76],[4471.0,0.8],[4471.3,0.9],[4471.6,1.0],[4471.9,1.1],[4472.2,1.144],[4472.5,1.13],[4472.8,1.1],[4473.1,1.075],[4473.5,1.058],[4474.2,1.045],[4475.2,1.035],[4476.2,1.03],[4477.3,1.025],[4478.5,1.03],[4479.6,1.02],[4480.3,0.995],[4480.8,0.96],[4481.2,0.95],[4481.7,0.98],[4482.3,1.013],[4484,1.02],[4487,1.015],[4490,1.01],[4495,1.008],[4499.5,1.005]];
var hmT215 = [[4452.5,0.96],[4452.8,1.0],[4453.2,1.02],[4454,1.025],[4460,1.025],[4464,1.025],[4464.8,1.02],[4465.5,1.004],[4466.3,1.015],[4467.0,1.022],[4467.5,1.016],[4468.3,1.016],[4469.0,1.0],[4469.5,0.96],[4469.9,0.9],[4470.4,0.82],[4470.8,0.775],[4471.0,0.769],[4471.3,0.82],[4471.6,0.9],[4472.0,1.0],[4472.3,1.05],[4472.5,1.064],[4472.9,1.05],[4473.4,1.04],[4474.2,1.03],[4475.0,1.025],[4476.0,1.02],[4477.2,1.015],[4478.0,1.018],[4479.0,1.02],[4479.7,1.01],[4480.2,0.99],[4480.7,0.955],[4481.1,0.94],[4481.6,0.97],[4482.1,1.0],[4482.6,1.013],[4483.5,1.015],[4486,1.013],[4490,1.01],[4495,1.008],[4499.5,1.01]];
var hmT220 = [[4452.5,1.012],[4452.9,1.035],[4453.3,1.042],[4454,1.043],[4460,1.043],[4463,1.043],[4464.9,1.042],[4465.4,1.03],[4465.8,1.014],[4466.6,1.025],[4467.4,1.042],[4467.9,1.047],[4468.5,1.04],[4469.1,1.02],[4469.6,0.98],[4470.0,0.9],[4470.5,0.8],[4471.0,0.761],[4471.3,0.8],[4471.6,0.9],[4472.0,1.0],[4472.3,1.05],[4472.6,1.062],[4473.1,1.055],[4473.8,1.05],[4475,1.045],[4477,1.04],[4478.2,1.048],[4479.2,1.04],[4480.0,1.02],[4480.7,0.97],[4481.1,0.946],[4481.6,0.98],[4482.3,1.03],[4484,1.033],[4486,1.03],[4490,1.026],[4494,1.025],[4498.3,1.025],[4498.8,1.035],[4499.2,1.046],[4499.5,1.045]];

// ---- Si III + O II ----
var siXTicks = [4550, 4560, 4570, 4580, 4590];
var siYTicks = [0.7, 0.8, 0.9, 1.0];
var siObs = [[4546.4,1.0],[4546.9,1.003],[4547.4,1.005],[4547.9,1.003],[4548.4,1.005],[4548.9,1.004],[4549.4,1.005],[4549.9,1.002],[4550.3,0.998],[4550.7,0.99],[4551.0,0.975],[4551.3,0.94],[4551.6,0.87],[4551.9,0.79],[4552.2,0.7],[4552.5,0.665],[4552.7,0.66],[4552.9,0.72],[4553.1,0.8],[4553.3,0.9],[4553.5,0.96],[4553.8,0.99],[4554.1,1.002],[4554.5,1.008],[4555.0,1.009],[4555.5,1.008],[4556.0,1.011],[4556.5,1.009],[4557.0,1.012],[4557.5,1.011],[4558.0,1.012],[4558.5,1.01],[4559.0,1.012],[4559.5,1.011],[4560.0,1.014],[4560.5,1.012],[4561.0,1.014],[4561.5,1.013],[4562.0,1.016],[4562.5,1.013],[4563.0,1.014],[4563.5,1.011],[4564.0,1.012],[4564.5,1.01],[4565.0,1.011],[4565.5,1.008],[4566.0,1.0],[4566.3,0.99],[4566.6,0.97],[4566.9,0.92],[4567.2,0.84],[4567.5,0.75],[4567.8,0.705],[4568.0,0.7],[4568.2,0.75],[4568.4,0.85],[4568.6,0.94],[4568.8,0.985],[4569.1,1.0],[4569.5,1.004],[4570.0,1.005],[4570.5,1.004],[4571.0,1.007],[4571.5,1.005],[4572.0,1.007],[4572.5,1.006],[4572.9,1.0],[4573.3,0.99],[4573.7,0.96],[4574.0,0.91],[4574.3,0.85],[4574.6,0.81],[4574.8,0.797],[4575.0,0.83],[4575.2,0.89],[4575.5,0.95],[4575.8,0.99],[4576.2,1.006],[4576.6,1.009],[4577.0,1.008],[4577.5,1.011],[4578.0,1.009],[4578.5,1.01],[4579.0,1.007],[4579.5,1.009],[4580.0,1.006],[4580.5,1.008],[4581.0,1.007],[4581.5,1.009],[4582.0,1.006],[4582.5,1.008],[4583.0,1.005],[4583.5,1.008],[4584.0,1.006],[4584.5,1.007],[4585.0,1.005],[4585.5,1.007],[4586.0,1.006],[4586.5,1.008],[4587.0,1.005],[4587.5,1.007],[4588.0,1.005],[4588.5,1.006],[4589.0,1.0],[4589.3,0.995],[4589.6,0.98],[4589.9,0.96],[4590.2,0.93],[4590.5,0.91],[4590.8,0.902],[4591.0,0.905],[4591.2,0.93],[4591.5,0.97],[4591.8,1.0],[4592.2,1.008],[4592.6,1.006],[4593.0,1.009],[4593.5,1.008]];
var siT200 = [[4546.4,1.003],[4548.5,1.005],[4550.0,1.0],[4550.5,0.985],[4550.9,0.95],[4551.3,0.89],[4551.7,0.8],[4552.0,0.745],[4552.3,0.728],[4552.6,0.76],[4552.9,0.85],[4553.3,0.95],[4553.7,1.0],[4554.1,1.01],[4554.5,1.005],[4556.0,1.004],[4557.5,1.0],[4559.0,1.003],[4562.0,1.005],[4565.0,1.005],[4566.0,1.0],[4566.5,0.98],[4566.9,0.93],[4567.3,0.82],[4567.6,0.748],[4567.9,0.8],[4568.3,0.92],[4568.7,0.99],[4569.3,1.005],[4570.3,1.015],[4571.5,1.01],[4572.5,1.008],[4573.0,1.0],[4573.5,0.975],[4573.9,0.92],[4574.2,0.86],[4574.5,0.82],[4574.8,0.86],[4575.2,0.95],[4575.7,1.0],[4576.4,1.02],[4580,1.03],[4584,1.04],[4588,1.047],[4589.3,1.048],[4589.8,1.035],[4590.3,1.01],[4590.8,1.002],[4591.3,1.02],[4591.8,1.045],[4592.4,1.052],[4593.5,1.056]];
var siT210 = [[4546.4,1.001],[4548.5,1.003],[4550.0,0.998],[4550.5,0.985],[4550.9,0.95],[4551.3,0.88],[4551.7,0.76],[4552.0,0.68],[4552.3,0.665],[4552.6,0.71],[4552.9,0.8],[4553.3,0.93],[4553.7,0.99],[4554.2,1.003],[4556.0,1.002],[4557.5,0.997],[4559.0,1.001],[4562.0,1.003],[4565.0,1.003],[4566.0,0.998],[4566.5,0.975],[4566.9,0.92],[4567.3,0.78],[4567.6,0.705],[4567.9,0.75],[4568.3,0.9],[4568.7,0.98],[4569.2,1.002],[4570.5,1.008],[4572.0,1.009],[4573.0,1.0],[4573.5,0.975],[4573.9,0.92],[4574.2,0.86],[4574.5,0.82],[4574.8,0.86],[4575.2,0.95],[4575.7,1.0],[4576.3,1.015],[4580,1.025],[4584,1.033],[4588,1.038],[4589.4,1.039],[4589.9,1.025],[4590.3,0.99],[4590.8,0.97],[4591.3,0.99],[4591.9,1.03],[4592.5,1.042],[4593.5,1.047]];
var siT215 = [[4546.4,1.002],[4548.5,1.005],[4550.0,1.0],[4550.5,0.99],[4550.9,0.96],[4551.3,0.9],[4551.7,0.78],[4552.0,0.7],[4552.3,0.684],[4552.6,0.72],[4552.9,0.8],[4553.3,0.93],[4553.7,0.99],[4554.2,1.005],[4556.0,1.004],[4557.5,0.999],[4559.0,1.003],[4562.0,1.005],[4565.0,1.005],[4566.0,1.0],[4566.5,0.98],[4566.9,0.93],[4567.3,0.8],[4567.7,0.724],[4568.0,0.78],[4568.3,0.9],[4568.7,0.98],[4569.2,1.002],[4570.5,1.009],[4572.0,1.01],[4573.0,1.003],[4573.5,0.98],[4573.9,0.93],[4574.2,0.86],[4574.5,0.819],[4574.8,0.86],[4575.2,0.95],[4575.7,1.0],[4576.3,1.017],[4580,1.02],[4584,1.025],[4588,1.03],[4589.4,1.032],[4589.9,1.015],[4590.3,0.97],[4590.9,0.937],[4591.4,0.97],[4591.9,1.015],[4592.5,1.032],[4593.5,1.036]];
var siT220 = [[4546.4,1.023],[4548.5,1.021],[4549.8,1.02],[4550.3,1.01],[4550.7,0.98],[4551.1,0.93],[4551.5,0.84],[4551.9,0.72],[4552.3,0.644],[4552.6,0.7],[4552.9,0.82],[4553.3,0.96],[4553.7,1.015],[4554.1,1.024],[4554.5,1.025],[4556.5,1.022],[4557.5,1.019],[4559.0,1.023],[4561.0,1.025],[4565.0,1.025],[4565.8,1.02],[4566.3,0.99],[4566.7,0.93],[4567.1,0.8],[4567.6,0.695],[4567.9,0.76],[4568.2,0.88],[4568.6,0.98],[4569.1,1.015],[4569.5,1.02],[4570.5,1.025],[4572.2,1.025],[4573.0,1.02],[4573.5,0.99],[4573.9,0.93],[4574.2,0.86],[4574.4,0.82],[4574.7,0.86],[4575.1,0.94],[4575.6,1.01],[4576.4,1.031],[4580,1.034],[4584,1.037],[4588,1.04],[4589.4,1.041],[4589.9,1.02],[4590.3,0.96],[4590.6,0.91],[4590.9,0.896],[4591.2,0.93],[4591.6,0.99],[4592.0,1.025],[4592.6,1.04],[4593.5,1.045]];

// ---- H beta ----
var hbXTicks = [4840, 4850, 4860, 4870, 4880];
var hbYTicks = [0.75, 1.0, 1.25, 1.5, 1.75, 2.0, 2.25, 2.5];
var hbObs = [[4836.5,0.995],[4837.5,0.99],[4838.5,0.993],[4839.5,0.99],[4840.5,0.995],[4841.5,0.99],[4842.5,0.985],[4843.5,0.99],[4844.5,0.985],[4845.5,0.983],[4846.5,0.988],[4847.5,0.99],[4848.5,0.995],[4849.5,0.993],[4850.5,1.0],[4851.5,0.998],[4852.5,1.003],[4853.5,1.005],[4854.5,1.01],[4855.5,1.012],[4856.2,1.008],[4856.7,0.995],[4857.2,0.985],[4857.7,0.982],[4858.1,0.97],[4858.4,0.94],[4858.8,0.87],[4859.2,0.79],[4859.5,0.75],[4859.7,0.738],[4860.0,0.76],[4860.3,0.84],[4860.6,0.93],[4860.9,1.05],[4861.2,1.2],[4861.5,1.36],[4861.8,1.465],[4862.1,1.41],[4862.4,1.3],[4862.7,1.22],[4863.1,1.14],[4863.5,1.1],[4864.0,1.07],[4864.6,1.05],[4865.3,1.042],[4866.2,1.038],[4867.2,1.035],[4868.2,1.033],[4869.2,1.03],[4870.0,1.022],[4870.7,1.015],[4871.3,1.008],[4871.8,1.01],[4872.5,1.015],[4873.3,1.01],[4874.2,1.008],[4875.2,1.005],[4876.2,1.003],[4877.2,1.0],[4878.2,0.995],[4879.0,0.99],[4879.6,0.983],[4880.2,0.987],[4881.0,0.99],[4882.0,0.993],[4883.0,0.99],[4883.5,0.992]];
var hbT200 = [[4836.5,1.023],[4840,1.03],[4845,1.045],[4850,1.062],[4854,1.08],[4856,1.1],[4857.0,1.118],[4857.3,1.121],[4857.7,1.1],[4858.1,1.02],[4858.5,0.9],[4858.9,0.832],[4859.3,0.9],[4859.7,1.15],[4860.2,1.5],[4860.7,1.95],[4861.1,2.3],[4861.6,2.443],[4862.0,2.33],[4862.4,2.0],[4862.8,1.7],[4863.3,1.45],[4863.9,1.28],[4864.6,1.18],[4865.5,1.13],[4866.5,1.11],[4867.5,1.105],[4869.2,1.095],[4870.2,1.08],[4871.4,1.06],[4872.8,1.065],[4875,1.055],[4878,1.045],[4881,1.035],[4883.5,1.03]];
var hbT210 = [[4836.5,1.015],[4840,1.02],[4845,1.03],[4850,1.04],[4855,1.05],[4857.0,1.065],[4857.5,1.071],[4857.9,1.06],[4858.3,1.0],[4858.8,0.9],[4859.2,0.845],[4859.6,0.87],[4860.0,1.0],[4860.5,1.25],[4861.0,1.6],[4861.3,1.82],[4861.6,1.92],[4861.9,1.88],[4862.2,1.72],[4862.6,1.45],[4863.1,1.25],[4863.7,1.14],[4864.5,1.09],[4865.5,1.065],[4867,1.05],[4869,1.045],[4870.3,1.04],[4871.3,1.025],[4872.5,1.03],[4875,1.03],[4880,1.025],[4883.5,1.02]];
var hbT215 = [[4836.5,1.011],[4840,1.015],[4845,1.02],[4850,1.025],[4855,1.032],[4857.3,1.04],[4857.8,1.035],[4858.3,1.015],[4858.8,0.96],[4859.3,0.88],[4859.8,0.836],[4860.2,0.88],[4860.6,1.0],[4861.0,1.2],[4861.4,1.45],[4861.8,1.556],[4862.1,1.5],[4862.5,1.33],[4862.9,1.2],[4863.4,1.11],[4864.0,1.07],[4865.0,1.05],[4866.5,1.04],[4868,1.035],[4869.7,1.03],[4870.6,1.02],[4871.4,1.008],[4872.2,1.02],[4873.5,1.025],[4876,1.022],[4880,1.02],[4883.5,1.015]];
var hbT220 = [[4836.5,1.01],[4840,1.015],[4845,1.02],[4850,1.027],[4855,1.035],[4857.5,1.045],[4858.0,1.04],[4858.6,1.015],[4859.1,0.93],[4859.5,0.86],[4859.9,0.829],[4860.3,0.88],[4860.7,1.0],[4861.1,1.2],[4861.5,1.4],[4861.8,1.465],[4862.1,1.4],[4862.5,1.26],[4862.9,1.16],[4863.4,1.1],[4864.2,1.06],[4865.5,1.045],[4867.5,1.04],[4869.5,1.035],[4870.8,1.022],[4871.5,1.012],[4872.3,1.025],[4874,1.025],[4878,1.023],[4883.5,1.02]];

// ---- H alpha ----
var haXTicks = [6540, 6550, 6560, 6570, 6580];
var haYTicks = [1, 2, 3, 4];
var haObs = [[6538.4,1.01],[6539.5,1.02],[6540.5,1.015],[6541.5,1.02],[6542.5,1.022],[6543.5,1.02],[6544.0,1.02],[6544.15,0.93],[6544.3,1.02],[6545.0,1.022],[6545.35,0.78],[6545.55,1.02],[6546.5,1.025],[6547.3,1.025],[6547.45,0.96],[6547.6,1.025],[6548.5,1.028],[6549.15,1.02],[6549.3,0.92],[6549.45,1.025],[6550.1,1.03],[6550.25,0.83],[6550.4,1.03],[6551.5,1.03],[6552.5,1.032],[6553.5,1.03],[6554.0,1.03],[6554.15,0.82],[6554.3,1.02],[6554.8,1.02],[6555.2,0.93],[6555.4,1.0],[6555.8,0.995],[6556.5,0.99],[6557.2,0.99],[6557.8,0.985],[6558.3,0.975],[6558.6,0.965],[6558.8,0.87],[6559.0,0.96],[6559.3,0.93],[6559.6,0.87],[6559.8,0.84],[6560.0,0.86],[6560.3,0.95],[6560.6,1.1],[6560.9,1.25],[6561.2,1.45],[6561.5,1.6],[6561.7,1.72],[6561.9,1.7],[6562.1,1.95],[6562.4,2.15],[6562.7,2.35],[6563.0,2.5],[6563.3,2.66],[6563.6,2.75],[6563.9,2.81],[6564.2,2.8],[6564.5,2.7],[6564.8,2.5],[6565.1,2.25],[6565.4,2.0],[6565.7,1.8],[6565.9,1.55],[6566.05,1.7],[6566.3,1.5],[6566.6,1.4],[6567.0,1.3],[6567.5,1.22],[6568.0,1.16],[6568.6,1.12],[6569.3,1.1],[6570.0,1.085],[6571.0,1.08],[6572.0,1.08],[6573.0,1.078],[6573.4,1.075],[6573.55,0.92],[6573.7,1.075],[6574.5,1.075],[6575.3,1.07],[6575.8,1.05],[6576.3,1.03],[6576.5,0.95],[6576.7,1.02],[6577.3,1.01],[6578.0,1.0],[6578.7,0.995],[6579.3,1.0],[6579.8,1.04],[6580.4,1.045],[6581.0,1.04],[6581.6,1.035],[6582.2,1.03],[6582.5,0.92],[6582.8,1.02],[6583.4,1.035],[6584.0,1.045],[6584.6,1.04],[6585.2,1.045],[6585.6,1.05]];
var haT200 = [[6538.4,1.06],[6541,1.07],[6543,1.08],[6546,1.09],[6549,1.1],[6552,1.12],[6554.5,1.15],[6556.0,1.19],[6556.8,1.24],[6557.2,1.26],[6557.7,1.22],[6558.2,1.15],[6558.7,1.11],[6559.2,1.13],[6559.7,1.35],[6560.2,1.8],[6560.7,2.4],[6561.2,3.0],[6561.7,3.6],[6562.2,4.1],[6562.7,4.42],[6563.1,4.53],[6563.4,4.55],[6563.8,4.45],[6564.2,4.15],[6564.7,3.6],[6565.2,2.95],[6565.7,2.4],[6566.2,1.95],[6566.8,1.6],[6567.5,1.38],[6568.3,1.26],[6569.2,1.21],[6570.5,1.18],[6572,1.165],[6573.5,1.14],[6574.5,1.11],[6575.3,1.08],[6576.0,1.02],[6576.6,0.92],[6577.2,0.82],[6577.8,0.78],[6578.4,0.86],[6579.0,1.0],[6579.6,1.09],[6580.0,1.105],[6580.6,1.06],[6581.2,0.97],[6581.8,0.87],[6582.5,0.83],[6583.1,0.88],[6583.7,1.0],[6584.3,1.08],[6585.0,1.095],[6585.6,1.09]];
var haT210 = [[6538.4,1.04],[6545,1.05],[6550,1.065],[6554,1.08],[6556.0,1.11],[6557.0,1.16],[6557.6,1.18],[6558.2,1.14],[6558.8,1.08],[6559.4,1.06],[6559.9,1.15],[6560.4,1.4],[6560.9,1.8],[6561.4,2.3],[6561.9,2.85],[6562.4,3.25],[6562.9,3.5],[6563.3,3.6],[6563.7,3.52],[6564.1,3.25],[6564.6,2.8],[6565.1,2.3],[6565.6,1.9],[6566.1,1.6],[6566.7,1.38],[6567.4,1.24],[6568.3,1.15],[6569.5,1.1],[6571,1.085],[6575,1.08],[6575.8,1.06],[6576.5,0.95],[6577.2,0.82],[6577.7,0.78],[6578.3,0.85],[6579.0,0.99],[6579.6,1.07],[6580.1,1.08],[6580.7,1.04],[6581.3,0.93],[6582.0,0.84],[6582.6,0.83],[6583.2,0.9],[6583.8,1.02],[6584.5,1.07],[6585.6,1.06]];
var haT215 = [[6538.4,1.03],[6545,1.04],[6550,1.05],[6554,1.06],[6556.5,1.09],[6557.5,1.12],[6558.0,1.14],[6558.6,1.12],[6559.2,1.07],[6559.8,1.04],[6560.3,1.12],[6560.8,1.35],[6561.3,1.7],[6561.8,2.15],[6562.3,2.55],[6562.8,2.82],[6563.3,2.88],[6563.7,2.8],[6564.1,2.55],[6564.6,2.2],[6565.1,1.85],[6565.6,1.58],[6566.2,1.38],[6567.0,1.23],[6568.0,1.14],[6569.2,1.09],[6571,1.08],[6575,1.078],[6575.8,1.06],[6576.6,0.95],[6577.2,0.82],[6577.8,0.76],[6578.4,0.83],[6579.1,0.98],[6579.7,1.06],[6580.2,1.07],[6580.8,1.02],[6581.5,0.9],[6582.1,0.82],[6582.7,0.8],[6583.3,0.87],[6583.9,0.98],[6584.6,1.05],[6585.6,1.07]];
var haT220 = [[6538.4,1.02],[6545,1.035],[6550,1.045],[6554,1.055],[6556.5,1.085],[6557.5,1.12],[6558.0,1.135],[6558.6,1.11],[6559.2,1.06],[6559.8,1.03],[6560.3,1.1],[6560.8,1.3],[6561.3,1.6],[6561.8,2.0],[6562.3,2.38],[6562.8,2.62],[6563.3,2.68],[6563.7,2.6],[6564.1,2.4],[6564.6,2.08],[6565.1,1.78],[6565.6,1.52],[6566.2,1.34],[6567.0,1.2],[6568.0,1.12],[6569.2,1.08],[6571,1.075],[6575,1.075],[6575.8,1.05],[6576.6,0.93],[6577.2,0.8],[6577.8,0.74],[6578.4,0.81],[6579.1,0.97],[6579.7,1.05],[6580.2,1.06],[6580.8,1.01],[6581.5,0.88],[6582.1,0.8],[6582.7,0.78],[6583.3,0.85],[6583.9,0.97],[6584.6,1.04],[6585.6,1.06]];

// ---- He I 10830 ----
var hiXTicks = [10800, 10820, 10840, 10860];
var hiYTicks = [0.5, 1.0, 1.5, 2.0, 2.5, 3.0, 3.5];
var hiObs = [[10780.5,1.0],[10781.5,0.99],[10782.3,0.96],[10783.0,0.942],[10783.7,0.965],[10784.5,0.99],[10785.5,1.0],[10787,0.995],[10788.5,1.0],[10790,0.998],[10791.5,1.002],[10793,0.995],[10794,0.99],[10795,0.995],[10796.5,1.0],[10798,0.996],[10800,0.995],[10801,1.0],[10801.7,0.96],[10802.1,0.945],[10802.6,0.985],[10803.5,1.0],[10805,0.99],[10806.5,0.995],[10808,1.0],[10809.5,1.005],[10811,1.0],[10812.5,1.0],[10814,0.998],[10815.3,0.99],[10816.5,0.97],[10817.5,0.94],[10818.5,0.9],[10819.5,0.86],[10820.5,0.82],[10821.3,0.78],[10822.0,0.74],[10822.7,0.65],[10823.3,0.52],[10823.8,0.42],[10824.2,0.375],[10824.6,0.38],[10825.0,0.5],[10825.6,0.56],[10826.3,0.61],[10827.0,0.67],[10827.8,0.75],[10828.6,0.87],[10829.5,1.02],[10830.4,1.2],[10831.3,1.4],[10832.1,1.6],[10832.8,1.78],[10833.4,1.93],[10833.9,2.04],[10834.3,1.95],[10834.8,1.75],[10835.3,1.55],[10835.9,1.42],[10836.6,1.34],[10837.4,1.27],[10838.3,1.2],[10839.3,1.14],[10840.3,1.1],[10841.5,1.06],[10842.8,1.03],[10844,1.0],[10845.5,0.99],[10847,1.0],[10849,0.995],[10851,1.0],[10853,0.997],[10855,0.995],[10857,1.0],[10858.5,0.995],[10859.3,0.97],[10859.8,0.965],[10860.5,1.0],[10861.5,0.97],[10862.3,0.876],[10862.9,0.95],[10863.8,0.995],[10865,1.0],[10867,0.993],[10869,0.988],[10871,0.995],[10873,1.0],[10875,0.995],[10877,1.0],[10879.5,1.0]];
var hiT200 = [[10780.5,1.025],[10790,1.045],[10800,1.07],[10805,1.08],[10809,1.09],[10811,1.095],[10812.5,1.08],[10814,1.02],[10815.5,0.9],[10817,0.75],[10818.5,0.6],[10820,0.47],[10821.5,0.37],[10823,0.3],[10824,0.286],[10825,0.31],[10826.3,0.42],[10827.5,0.58],[10828.6,0.8],[10829.8,1.15],[10831,1.6],[10832.2,2.15],[10833.3,2.7],[10834.3,3.2],[10835.1,3.47],[10835.7,3.53],[10836.4,3.4],[10837.2,3.0],[10838.0,2.5],[10839.0,2.0],[10840.2,1.65],[10841.5,1.4],[10843,1.25],[10845,1.17],[10847.5,1.14],[10850,1.12],[10855,1.1],[10860,1.08],[10865,1.07],[10870,1.06],[10879.5,1.05]];
var hiT210 = [[10780.5,1.02],[10790,1.03],[10800,1.04],[10810,1.055],[10813,1.06],[10815,1.05],[10816.5,1.02],[10818,0.95],[10819.5,0.83],[10821,0.7],[10822.5,0.58],[10824,0.49],[10825.3,0.45],[10826.3,0.47],[10827.4,0.56],[10828.5,0.72],[10829.6,0.98],[10830.7,1.35],[10831.8,1.8],[10832.8,2.25],[10833.8,2.65],[10834.5,2.8],[10834.9,2.836],[10835.4,2.75],[10836.1,2.45],[10836.9,2.05],[10837.8,1.7],[10839.0,1.42],[10840.5,1.25],[10842.5,1.15],[10845,1.1],[10850,1.07],[10860,1.05],[10870,1.04],[10879.5,1.03]];
var hiT215 = [[10780.5,1.02],[10790,1.025],[10800,1.03],[10810,1.04],[10815,1.045],[10817,1.04],[10818.5,1.02],[10820,0.96],[10821.5,0.88],[10823,0.78],[10824.5,0.7],[10825.8,0.64],[10826.8,0.61],[10827.6,0.61],[10828.4,0.65],[10829.2,0.74],[10830.0,0.9],[10830.9,1.15],[10831.8,1.5],[10832.7,1.9],[10833.6,2.2],[10834.2,2.3],[10834.7,2.25],[10835.3,2.05],[10836.0,1.78],[10836.8,1.53],[10837.8,1.34],[10839,1.2],[10840.5,1.12],[10842.5,1.08],[10845,1.06],[10850,1.045],[10860,1.03],[10870,1.025],[10879.5,1.02]];
var hiT220 = [[10780.5,1.015],[10790,1.02],[10800,1.028],[10810,1.038],[10815,1.043],[10817,1.04],[10818.5,1.02],[10820,0.96],[10821.5,0.88],[10823,0.78],[10824.5,0.7],[10825.8,0.64],[10826.8,0.615],[10827.6,0.615],[10828.4,0.66],[10829.2,0.76],[10830.0,0.93],[10830.9,1.18],[10831.8,1.5],[10832.7,1.85],[10833.6,2.08],[10834.2,2.137],[10834.7,2.08],[10835.3,1.9],[10836.0,1.65],[10836.8,1.43],[10837.8,1.27],[10839,1.16],[10840.5,1.1],[10842.5,1.06],[10845,1.045],[10850,1.035],[10860,1.025],[10870,1.02],[10879.5,1.015]];

// panel table (reading order: left to right, top to bottom)
var panels = [
  { label: 'C II {i|λ}1335', x: [1326, 1344], y: [-0.063, 1.363], xt: ciiXTicks, yt: ciiYTicks, dec: 1, obs: ciiObs, mod: [ciiT200, ciiT210, ciiT215, ciiT220] },
  { label: 'H{i|ε}', x: [3946.5, 3993.5], y: [0.141, 1.224], xt: heXTicks, yt: heYTicks, dec: 1, obs: heObs, mod: [heT200, heT210, heT215, heT220] },
  { label: 'H{i|δ} + Si IV + He I + Si II', x: [4091.5, 4138.5], y: [0.615, 1.307], xt: hdXTicks, yt: hdYTicks, dec: 1, obs: hdObs, mod: [hdT200, hdT210, hdT215, hdT220] },
  { label: 'He I + Mg II', x: [4452.5, 4499.5], y: [0.679, 1.333], xt: hmXTicks, yt: hmYTicks, dec: 1, obs: hmObs, mod: [hmT200, hmT210, hmT215, hmT220] },
  { label: 'Si III + O II', x: [4546.4, 4593.5], y: [0.623, 1.077], xt: siXTicks, yt: siYTicks, dec: 1, obs: siObs, mod: [siT200, siT210, siT215, siT220] },
  { label: 'H{i|β}', x: [4836.45, 4883.55], y: [0.65, 2.53], xt: hbXTicks, yt: hbYTicks, dec: 2, obs: hbObs, mod: [hbT200, hbT210, hbT215, hbT220] },
  { label: 'H{i|α}', x: [6538.4, 6585.6], y: [0.509, 4.744], xt: haXTicks, yt: haYTicks, dec: 0, obs: haObs, mod: [haT200, haT210, haT215, haT220] },
  { label: 'He I', x: [10780.45, 10879.5], y: [0.123, 3.696], xt: hiXTicks, yt: hiYTicks, dec: 1, obs: hiObs, mod: [hiT200, hiT210, hiT215, hiT220] }
];

var FONT = 'DejaVu Sans';
var colLeft = [83, 675], colWidth = 524;
var rowTop = [1, 476, 952, 1428], rowHeight = 414;
var lineWidths = [1.6, 1.6, 3.2, 1.6];

var grids = [], xAxes = [], yAxes = [], series = [], titles = [];

panels.forEach(function (p, i) {
  var col = i % 2, row = Math.floor(i / 2);
  grids.push({ left: colLeft[col], top: rowTop[row], width: colWidth, height: rowHeight,
    show: true, borderColor: '#222', borderWidth: 1.5, backgroundColor: 'transparent' });
  xAxes.push({
    type: 'value', gridIndex: i, min: p.x[0], max: p.x[1],
    axisLine: { show: false }, splitLine: { show: false },
    axisTick: { inside: true, length: 7, lineStyle: { color: '#222', width: 1.3 }, customValues: p.xt },
    axisLabel: { customValues: p.xt, color: '#000', fontSize: 22, fontFamily: FONT, margin: 9,
      formatter: function (v) { return String(v); } },
    name: row === 3 ? 'λ [Å]' : '', nameLocation: 'middle', nameGap: 38,
    nameTextStyle: { fontSize: 30, fontStyle: 'italic', fontFamily: FONT, color: '#000' }
  });
  yAxes.push({
    type: 'value', gridIndex: i, min: p.y[0], max: p.y[1],
    axisLine: { show: false }, splitLine: { show: false },
    axisTick: { inside: true, length: 7, lineStyle: { color: '#222', width: 1.3 }, customValues: p.yt },
    axisLabel: { customValues: p.yt, color: '#000', fontSize: 22, fontFamily: FONT, margin: 8,
      formatter: (function (d) { return function (v) { return v.toFixed(d); }; })(p.dec) },
    name: col === 0 ? 'Norm. flux' : '', nameLocation: 'middle', nameGap: row === 3 ? 30 : 50,
    nameTextStyle: { fontSize: 30, fontFamily: FONT, color: '#000' }
  });
  titles.push({
    text: p.label, right: 1200 - (colLeft[col] + colWidth) + 28, top: rowTop[row] + 3, padding: 0,
    textStyle: { color: '#999', fontSize: 22, fontWeight: 'normal', fontFamily: FONT,
      rich: { i: { fontStyle: 'italic', color: '#999', fontSize: 22, fontFamily: FONT } } }
  });
  series.push({ type: 'line', name: 'Observation', xAxisIndex: i, yAxisIndex: i, data: p.obs,
    symbol: 'none', lineStyle: { color: '#000', width: 3.3 }, z: 2 });
  p.mod.forEach(function (d, k) {
    series.push({ type: 'line', name: modelNames[k], xAxisIndex: i, yAxisIndex: i, data: d,
      symbol: 'none', smooth: 0.25, smoothMonotone: 'x',
      itemStyle: { color: modelColors[k] },
      lineStyle: { color: modelColors[k], width: lineWidths[k] }, z: 3 + k });
  });
});

var legendRich = {
  it: { fontStyle: 'italic', fontSize: 22, lineHeight: 35, fontFamily: FONT, color: '#000' },
  sub: { fontSize: 17, lineHeight: 35, fontFamily: FONT, color: '#000', padding: [8, 0, 0, 0] },
  tx: { fontSize: 22, lineHeight: 35, fontFamily: FONT, color: '#000' },
  sp: { width: 13, fontSize: 22, lineHeight: 35 }
};
function legendLabel(name) {
  var k = modelNames.indexOf(name);
  return '{sp| }{it|T}{sub|∗}{tx| = ' + modelTeff[k] + ' kK}\n{sp| }{tx|log }{it|Ṁ}{tx| = ' + modelLogMdot[k] + '}';
}
function makeLegend(idx, left) {
  return {
    data: idx.map(function (k) {
      return { name: modelNames[k], lineStyle: { color: modelColors[k], width: lineWidths[k] + 0.4 } };
    }),
    orient: 'vertical', left: left, top: 261, padding: 0, itemGap: 14,
    itemWidth: 48, itemHeight: 14, z: 110, selectedMode: false, formatter: legendLabel,
    itemStyle: { opacity: 0 },
    textStyle: { fontSize: 22, fontFamily: FONT, color: '#000', rich: legendRich } };
}

var chart = echarts.init(document.getElementById('container'), null, { renderer: 'canvas' });
chart.setOption({
  animation: false,
  backgroundColor: '#fff',
  title: titles,
  grid: grids,
  xAxis: xAxes,
  yAxis: yAxes,
  legend: [makeLegend([0, 1], 696), makeLegend([2, 3], 962)],
  graphic: [{ type: 'rect', z: 100, shape: { x: 687, y: 253, width: 503, height: 150, r: 4 },
    style: { fill: 'rgba(255,255,255,0.8)', stroke: '#cccccc', lineWidth: 1 } }],
  series: series
});
</script>
</body>
</html>
